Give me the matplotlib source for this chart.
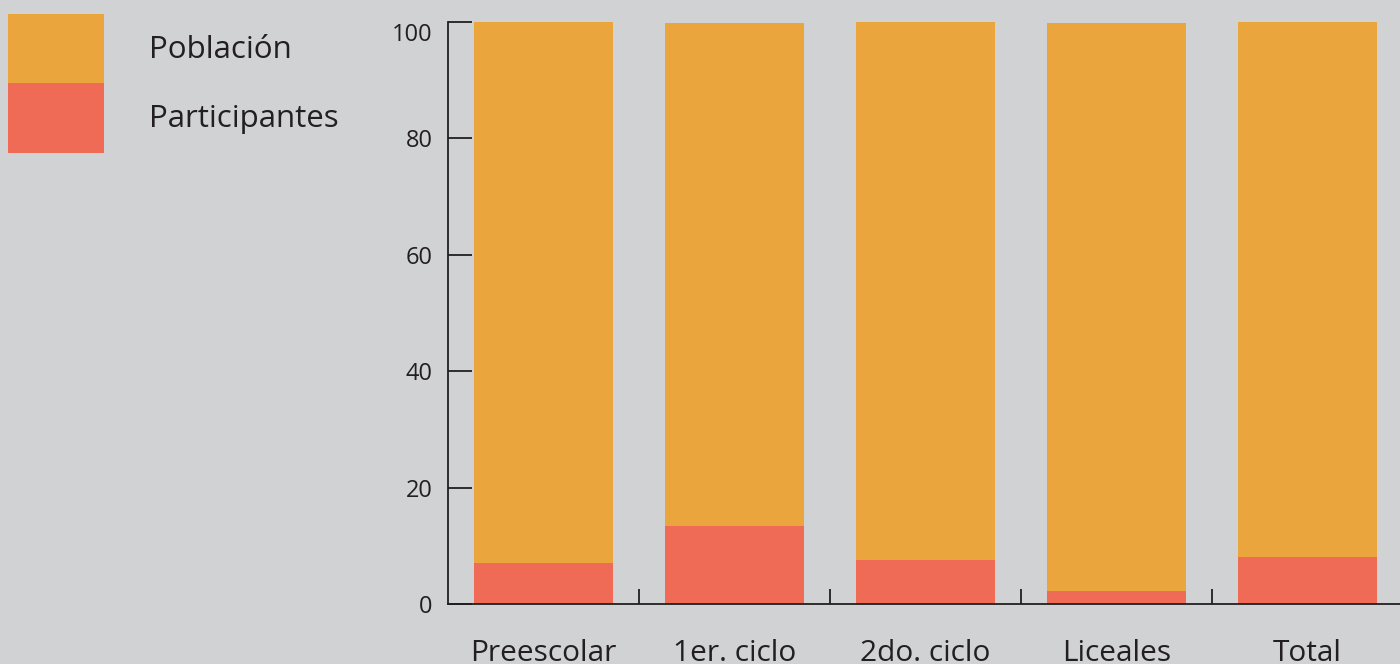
import matplotlib
matplotlib.use("Agg")
import matplotlib.pyplot as plt
import matplotlib.transforms as mtransforms
from matplotlib.patches import Rectangle

categorias = ["Preescolar", "1er. ciclo", "2do. ciclo", "Liceales", "Total"]
poblacion = [100, 99.8, 100, 99.8, 100]
participantes = [7.0, 13.4, 7.6, 2.2, 8.1]
yticks = [0, 20, 40, 60, 80, 100]

color_pob = "#EAA63D"
color_part = "#EF6B56"
fondo = "#D1D2D4"
texto = "#231F20"

plt.rcParams["font.family"] = ["Open Sans", "DejaVu Sans"]

fig = plt.figure(figsize=(14, 6.64), dpi=100, facecolor=fondo)
ax = fig.add_axes([448 / 1400, 60 / 664, 952 / 1400, 582 / 664])
ax.set_facecolor(fondo)

x = range(len(categorias))
ax.bar(x, poblacion, width=0.725, color=color_pob, zorder=2)
ax.bar(x, participantes, width=0.725, color=color_part, zorder=3)

ax.set_xlim(-0.5, 4.484)
ax.set_ylim(0, 100)

for s in ["top", "right"]:
    ax.spines[s].set_visible(False)
for s in ["left", "bottom"]:
    ax.spines[s].set_color(texto)
    ax.spines[s].set_linewidth(1.3)
    ax.spines[s].set_zorder(4)

ax.set_yticks(yticks)
ax.set_yticklabels([str(v) for v in yticks])
ax.tick_params(axis="y", direction="in", length=17, width=1.3, color=texto,
               labelsize=17, labelcolor=texto, pad=11)

# separadores entre categorias
ax.set_xticks([i + 0.5 for i in range(len(categorias) - 1)])
ax.set_xticklabels([])
ax.tick_params(axis="x", which="major", direction="in", length=11, width=1.3,
               color=texto)
ax.set_xticks(list(x), minor=True)
ax.set_xticklabels(categorias, minor=True)
ax.tick_params(axis="x", which="minor", length=0, labelsize=21.5,
               labelcolor=texto, pad=25)

# bajar un poco la etiqueta 100
lab = ax.get_yticklabels()[-1]
lab.set_transform(lab.get_transform() +
                  mtransforms.ScaledTranslation(0, -10 / 100, fig.dpi_scale_trans))

# leyenda manual
fig.add_artist(Rectangle((8 / 1400, 1 - 83 / 664), 96 / 1400, 69 / 664,
                         transform=fig.transFigure, color=color_pob, lw=0))
fig.add_artist(Rectangle((8 / 1400, 1 - 153 / 664), 96 / 1400, 70 / 664,
                         transform=fig.transFigure, color=color_part, lw=0))
fig.text(149 / 1400, 1 - 50 / 664, "Población", fontsize=22.5, color=texto,
         va="center", ha="left")
fig.text(149 / 1400, 1 - 119 / 664, "Participantes", fontsize=22.5, color=texto,
         va="center", ha="left")

fig.savefig("out.png", dpi=100, facecolor=fondo)
